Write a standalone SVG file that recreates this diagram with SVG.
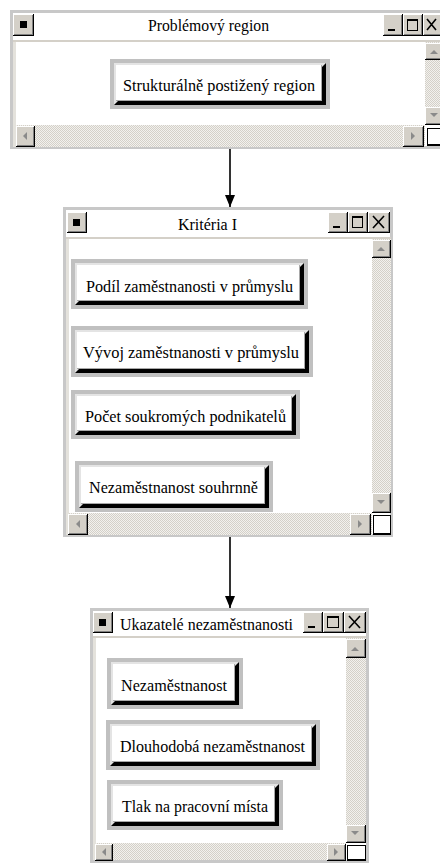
<svg xmlns="http://www.w3.org/2000/svg" width="440" height="863" viewBox="0 0 440 863">
<style>
.wb{fill:#fff;stroke:#c8c8c8;stroke-width:3}
.sep{fill:#d4d0c8}
.band{fill:#e4e2dc}
.trk{fill:url(#dots)}
.k{fill:#000}.w{fill:#fff}.g{fill:#808080}.f{fill:#d4d0c8}
.fr{fill:#c0c0c0}.hl{fill:#e4e4e4}.gi{fill:#a8a8a8}
.tri{fill:#8a8a8a}
.xg{stroke:#000;stroke-width:1.6;fill:none}
.mx{fill:none;stroke:#000;stroke-width:1}
.t{font-family:"Liberation Serif","Times New Roman",serif;font-size:16px;fill:#000}
.lb{font-family:"Liberation Serif","Times New Roman",serif;font-size:17px;fill:#000}
.cn{stroke:#333;stroke-width:2;fill:none}
</style>
<defs>
<pattern id="dots" width="2" height="2" patternUnits="userSpaceOnUse"><rect width="2" height="2" fill="#f2f1ee"/><rect width="1" height="1" fill="#d4d0c8"/><rect x="1" y="1" width="1" height="1" fill="#d4d0c8"/></pattern>
<marker id="ah" viewBox="0 0 12 10" refX="12" refY="5" markerWidth="12" markerHeight="10" markerUnits="userSpaceOnUse" orient="auto"><path d="M0,0 L12,5 L0,10 z" fill="#000"/></marker>
</defs>
<rect width="440" height="863" fill="#fff"/>

<g id="connectors">
<line class="cn" x1="230" y1="149" x2="230" y2="207" marker-end="url(#ah)"/>
<line class="cn" x1="230" y1="537" x2="230" y2="608" marker-end="url(#ah)"/>
</g>

<g id="win-problemovy-region">
<rect class="wb" x="11.5" y="11.5" width="433" height="136"/>
<rect class="sep" x="13" y="40" width="432" height="2"/>
<rect class="band" x="13" y="42" width="3" height="105"/>
<rect class="k" x="13" y="14" width="21" height="22"/><rect class="w" x="13" y="14" width="20" height="21"/><rect class="g" x="14" y="15" width="19" height="20"/><rect class="f" x="14" y="15" width="18" height="19"/><rect class="k" x="20" y="21" width="7" height="7"/>
<text class="t" x="148" y="31" textLength="121" lengthAdjust="spacingAndGlyphs">Problémový region</text>
<rect class="k" x="383" y="14" width="20" height="22"/><rect class="w" x="383" y="14" width="19" height="21"/><rect class="g" x="384" y="15" width="18" height="20"/><rect class="f" x="384" y="15" width="17" height="19"/><rect class="k" x="388" y="29" width="7" height="2"/>
<rect class="k" x="403" y="14" width="20" height="22"/><rect class="w" x="403" y="14" width="19" height="21"/><rect class="g" x="404" y="15" width="18" height="20"/><rect class="f" x="404" y="15" width="17" height="19"/><rect class="mx" x="407.5" y="19.5" width="10" height="11"/><rect class="k" x="407" y="19" width="11" height="2"/>
<rect class="k" x="423" y="14" width="20" height="22"/><rect class="w" x="423" y="14" width="19" height="21"/><rect class="g" x="424" y="15" width="18" height="20"/><rect class="f" x="424" y="15" width="17" height="19"/><path class="xg" d="M427,19 L436,30 M436,19 L427,30"/>
<rect class="trk" x="425" y="42" width="20" height="83"/>
<rect class="k" x="425" y="43" width="20" height="17"/><rect class="w" x="425" y="43" width="19" height="16"/><rect class="g" x="426" y="44" width="18" height="15"/><rect class="f" x="426" y="44" width="17" height="14"/><polygon class="tri" points="430,54 438,54 434,50"/>
<rect class="k" x="425" y="107" width="20" height="18"/><rect class="w" x="425" y="107" width="19" height="17"/><rect class="g" x="426" y="108" width="18" height="16"/><rect class="f" x="426" y="108" width="17" height="15"/><polygon class="tri" points="430,113 438,113 434,117"/>
<rect class="trk" x="16" y="125" width="409" height="22"/>
<rect class="k" x="16" y="126" width="19" height="21"/><rect class="w" x="16" y="126" width="18" height="20"/><rect class="g" x="17" y="127" width="17" height="19"/><rect class="f" x="17" y="127" width="16" height="18"/><polygon class="tri" points="27,132 27,140 23,136"/>
<rect class="k" x="403" y="126" width="21" height="21"/><rect class="w" x="403" y="126" width="20" height="20"/><rect class="g" x="404" y="127" width="19" height="19"/><rect class="f" x="404" y="127" width="18" height="18"/><polygon class="tri" points="411,132 411,140 415,136"/>
<rect class="k" x="427" y="128" width="16" height="18"/><rect class="w" x="428" y="129" width="14" height="15"/>
</g>

<g id="node-strukturalne">
<rect class="fr" x="110" y="59" width="220" height="50"/><rect class="k" x="114" y="63" width="212" height="42"/><polygon class="hl" points="114,63 326,63 322,67 322,101 118,101 114,105"/><rect class="gi" x="116" y="65" width="206" height="36"/><rect class="w" x="116" y="65" width="205" height="35"/>
<text class="lb" x="123" y="91" textLength="192" lengthAdjust="spacingAndGlyphs">Strukturálně postižený region</text>
</g>

<g id="win-kriteria">
<rect class="wb" x="64.5" y="208.5" width="327" height="327"/>
<rect class="sep" x="66" y="237" width="325" height="2"/>
<rect class="band" x="66" y="239" width="3" height="296"/>
<rect class="k" x="67" y="212" width="20" height="21"/><rect class="w" x="67" y="212" width="19" height="20"/><rect class="g" x="68" y="213" width="18" height="19"/><rect class="f" x="68" y="213" width="17" height="18"/><rect class="k" x="73" y="219" width="7" height="7"/>
<text class="t" x="178" y="230" textLength="59" lengthAdjust="spacingAndGlyphs">Kritéria I</text>
<rect class="k" x="328" y="212" width="20" height="21"/><rect class="w" x="328" y="212" width="19" height="20"/><rect class="g" x="329" y="213" width="18" height="19"/><rect class="f" x="329" y="213" width="17" height="18"/><rect class="k" x="333" y="226" width="7" height="2"/>
<rect class="k" x="348" y="212" width="20" height="21"/><rect class="w" x="348" y="212" width="19" height="20"/><rect class="g" x="349" y="213" width="18" height="19"/><rect class="f" x="349" y="213" width="17" height="18"/><rect class="mx" x="352.5" y="216.5" width="10" height="11"/><rect class="k" x="352" y="216" width="11" height="2"/>
<rect class="k" x="368" y="212" width="22" height="21"/><rect class="w" x="368" y="212" width="21" height="20"/><rect class="g" x="369" y="213" width="20" height="19"/><rect class="f" x="369" y="213" width="19" height="18"/><path class="xg" d="M373,216 L384,228 M384,216 L373,228"/>
<rect class="trk" x="372" y="239" width="19" height="274"/>
<rect class="k" x="372" y="240" width="19" height="18"/><rect class="w" x="372" y="240" width="18" height="17"/><rect class="g" x="373" y="241" width="17" height="16"/><rect class="f" x="373" y="241" width="16" height="15"/><polygon class="tri" points="377,251 385,251 381,247"/>
<rect class="k" x="372" y="493" width="19" height="20"/><rect class="w" x="372" y="493" width="18" height="19"/><rect class="g" x="373" y="494" width="17" height="18"/><rect class="f" x="373" y="494" width="16" height="17"/><polygon class="tri" points="377,500 385,500 381,504"/>
<rect class="trk" x="69" y="513" width="303" height="22"/>
<rect class="k" x="68" y="514" width="20" height="21"/><rect class="w" x="68" y="514" width="19" height="20"/><rect class="g" x="69" y="515" width="18" height="19"/><rect class="f" x="69" y="515" width="17" height="18"/><polygon class="tri" points="80,520 80,528 76,524"/>
<rect class="k" x="350" y="514" width="21" height="21"/><rect class="w" x="350" y="514" width="20" height="20"/><rect class="g" x="351" y="515" width="19" height="19"/><rect class="f" x="351" y="515" width="18" height="18"/><polygon class="tri" points="358,520 358,528 362,524"/>
<rect class="k" x="373" y="515" width="18" height="20"/><rect class="w" x="374" y="516" width="16" height="17"/>
</g>

<g id="node-podil">
<rect class="fr" x="71" y="259" width="237" height="50"/><rect class="k" x="75" y="263" width="229" height="42"/><polygon class="hl" points="75,263 304,263 300,267 300,301 79,301 75,305"/><rect class="gi" x="77" y="265" width="223" height="36"/><rect class="w" x="77" y="265" width="222" height="35"/>
<text class="lb" x="86" y="292" textLength="207" lengthAdjust="spacingAndGlyphs">Podíl zaměstnanosti v průmyslu</text>
</g>
<g id="node-vyvoj">
<rect class="fr" x="71" y="326" width="242" height="51"/><rect class="k" x="75" y="330" width="234" height="43"/><polygon class="hl" points="75,330 309,330 305,334 305,369 79,369 75,373"/><rect class="gi" x="77" y="332" width="228" height="37"/><rect class="w" x="77" y="332" width="227" height="36"/>
<text class="lb" x="83" y="358" textLength="216" lengthAdjust="spacingAndGlyphs">Vývoj zaměstnanosti v průmyslu</text>
</g>
<g id="node-pocet">
<rect class="fr" x="71" y="390" width="229" height="49"/><rect class="k" x="75" y="394" width="221" height="41"/><polygon class="hl" points="75,394 296,394 292,398 292,431 79,431 75,435"/><rect class="gi" x="77" y="396" width="215" height="35"/><rect class="w" x="77" y="396" width="214" height="34"/>
<text class="lb" x="85" y="422" textLength="201" lengthAdjust="spacingAndGlyphs">Počet soukromých podnikatelů</text>
</g>
<g id="node-souhrnne">
<rect class="fr" x="75" y="461" width="198" height="51"/><rect class="k" x="79" y="465" width="190" height="43"/><polygon class="hl" points="79,465 269,465 265,469 265,504 83,504 79,508"/><rect class="gi" x="81" y="467" width="184" height="37"/><rect class="w" x="81" y="467" width="183" height="36"/>
<text class="lb" x="89" y="493" textLength="169" lengthAdjust="spacingAndGlyphs">Nezaměstnanost souhrnně</text>
</g>

<g id="win-ukazatele">
<rect class="wb" x="91.5" y="609.5" width="276" height="252"/>
<rect class="sep" x="93" y="636" width="273" height="2"/>
<rect class="band" x="93" y="638" width="3" height="222"/>
<rect class="k" x="93" y="612" width="20" height="21"/><rect class="w" x="93" y="612" width="19" height="20"/><rect class="g" x="94" y="613" width="18" height="19"/><rect class="f" x="94" y="613" width="17" height="18"/><rect class="k" x="99" y="619" width="7" height="7"/>
<text class="t" x="120" y="630" textLength="173" lengthAdjust="spacingAndGlyphs">Ukazatelé nezaměstnanosti</text>
<rect class="k" x="303" y="612" width="20" height="21"/><rect class="w" x="303" y="612" width="19" height="20"/><rect class="g" x="304" y="613" width="18" height="19"/><rect class="f" x="304" y="613" width="17" height="18"/><rect class="k" x="308" y="626" width="7" height="2"/>
<rect class="k" x="323" y="612" width="21" height="21"/><rect class="w" x="323" y="612" width="20" height="20"/><rect class="g" x="324" y="613" width="19" height="19"/><rect class="f" x="324" y="613" width="18" height="18"/><rect class="mx" x="327.5" y="616.5" width="11" height="11"/><rect class="k" x="327" y="616" width="12" height="2"/>
<rect class="k" x="344" y="612" width="22" height="21"/><rect class="w" x="344" y="612" width="21" height="20"/><rect class="g" x="345" y="613" width="20" height="19"/><rect class="f" x="345" y="613" width="19" height="18"/><path class="xg" d="M349,616 L360,628 M360,616 L349,628"/>
<rect class="trk" x="346" y="638" width="20" height="205"/>
<rect class="k" x="346" y="639" width="20" height="19"/><rect class="w" x="346" y="639" width="19" height="18"/><rect class="g" x="347" y="640" width="18" height="17"/><rect class="f" x="347" y="640" width="17" height="16"/><polygon class="tri" points="351,651 359,651 355,647"/>
<rect class="k" x="346" y="825" width="20" height="18"/><rect class="w" x="346" y="825" width="19" height="17"/><rect class="g" x="347" y="826" width="18" height="16"/><rect class="f" x="347" y="826" width="17" height="15"/><polygon class="tri" points="351,831 359,831 355,835"/>
<rect class="trk" x="96" y="843" width="250" height="17"/>
<rect class="k" x="95" y="844" width="18" height="17"/><rect class="w" x="95" y="844" width="17" height="16"/><rect class="g" x="96" y="845" width="16" height="15"/><rect class="f" x="96" y="845" width="15" height="14"/><polygon class="tri" points="106,848 106,856 102,852"/>
<rect class="k" x="327" y="844" width="19" height="17"/><rect class="w" x="327" y="844" width="18" height="16"/><rect class="g" x="328" y="845" width="17" height="15"/><rect class="f" x="328" y="845" width="16" height="14"/><polygon class="tri" points="334,848 334,856 338,852"/>
<rect class="k" x="347" y="845" width="19" height="16"/><rect class="w" x="348" y="846" width="17" height="13"/>
</g>

<g id="node-nezamestnanost">
<rect class="fr" x="107" y="658" width="136" height="51"/><rect class="k" x="111" y="662" width="128" height="43"/><polygon class="hl" points="111,662 239,662 235,666 235,701 115,701 111,705"/><rect class="gi" x="113" y="664" width="122" height="37"/><rect class="w" x="113" y="664" width="121" height="36"/>
<text class="lb" x="121" y="691" textLength="106" lengthAdjust="spacingAndGlyphs">Nezaměstnanost</text>
</g>
<g id="node-dlouhodoba">
<rect class="fr" x="106" y="720" width="214" height="50"/><rect class="k" x="110" y="724" width="206" height="42"/><polygon class="hl" points="110,724 316,724 312,728 312,762 114,762 110,766"/><rect class="gi" x="112" y="726" width="200" height="36"/><rect class="w" x="112" y="726" width="199" height="35"/>
<text class="lb" x="120" y="752" textLength="185" lengthAdjust="spacingAndGlyphs">Dlouhodobá nezaměstnanost</text>
</g>
<g id="node-tlak">
<rect class="fr" x="107" y="780" width="176" height="50"/><rect class="k" x="111" y="784" width="168" height="42"/><polygon class="hl" points="111,784 279,784 275,788 275,822 115,822 111,826"/><rect class="gi" x="113" y="786" width="162" height="36"/><rect class="w" x="113" y="786" width="161" height="35"/>
<text class="lb" x="122" y="812" textLength="146" lengthAdjust="spacingAndGlyphs">Tlak na pracovní místa</text>
</g>
</svg>
